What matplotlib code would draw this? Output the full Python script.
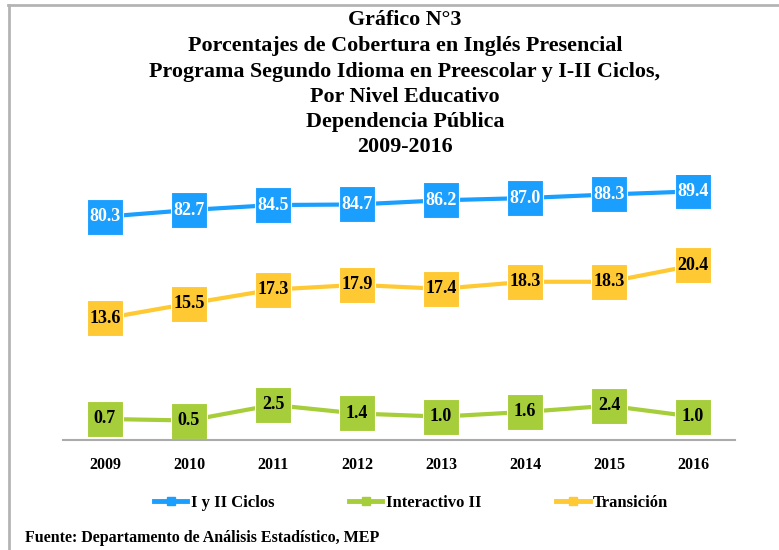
import matplotlib
matplotlib.use('Agg')
import matplotlib.pyplot as plt
from matplotlib.lines import Line2D

plt.rcParams['font.family'] = 'Liberation Serif'
plt.rcParams['font.weight'] = 'bold'

# ---- data ----
years = ['2009', '2010', '2011', '2012', '2013', '2014', '2015', '2016']
ciclos = [80.3, 82.7, 84.5, 84.7, 86.2, 87.0, 88.3, 89.4]
interactivo = [0.7, 0.5, 2.5, 1.4, 1.0, 1.6, 2.4, 1.0]
transicion = [13.6, 15.5, 17.3, 17.9, 17.4, 18.3, 18.3, 20.4]
series_names = ['I y II Ciclos', 'Interactivo II', 'Transición']

c_blue = '#1a9fff'
c_green = '#a6cd3a'
c_yellow = '#ffc933'

title_lines = ['Gráfico N°3',
               'Porcentajes de Cobertura en Inglés Presencial',
               'Programa Segundo Idioma en Preescolar y I-II Ciclos,',
               'Por Nivel Educativo',
               'Dependencia Pública',
               '2009-2016']

fig = plt.figure(figsize=(7.79, 5.5), dpi=100)

# frame of the picture (top and left edges only visible)
fig.add_artist(Line2D([8/779, 1], [1-5/550, 1-5/550], color='#b4b4b4', lw=2))
fig.add_artist(Line2D([8.5/779, 8.5/779], [0, 1-5/550], color='#b4b4b4', lw=2))

ax = fig.add_axes([63/779, 110/550, 672/779, 265/550])
ax2 = ax.twinx()

x = list(range(len(years)))

def draw(a, vals, col, txtcol):
    a.plot(x, vals, color=col, lw=3, zorder=2, marker='s', ms=26,
           mec='white', mew=0.8)
    for xi, v in zip(x, vals):
        a.text(xi, v, '%.1f' % v, ha='center', va='center', fontsize=13,
               fontweight='bold', color=txtcol, zorder=4)

draw(ax, interactivo, c_green, 'black')
draw(ax, transicion, c_yellow, 'black')
draw(ax2, ciclos, c_blue, 'white')

ax.set_xlim(-0.5, len(years) - 0.5)
ax.set_ylim(-2, 32)
ax2.set_ylim(0, 95.3)

for a in (ax, ax2):
    for s in ['top', 'right', 'left']:
        a.spines[s].set_visible(False)
    a.set_yticks([])
    a.patch.set_visible(False)
ax2.spines['bottom'].set_visible(False)
ax.spines['bottom'].set_color('#ababab')
ax.spines['bottom'].set_linewidth(1.5)

ax.set_xticks(x)
ax.set_xticklabels(years, fontsize=11.5, fontweight='bold')
ax.tick_params(axis='x', length=0, pad=12)

title_y = [20, 46, 72, 97, 122, 147]
for t, yy in zip(title_lines, title_y):
    fig.text(405/779, 1 - yy/550, t, ha='center', va='center', fontsize=15.8,
             fontweight='bold')

handles = [Line2D([], [], color=c_blue, lw=3.5, marker='s', ms=6),
           Line2D([], [], color=c_green, lw=3.5, marker='s', ms=6),
           Line2D([], [], color=c_yellow, lw=3.5, marker='s', ms=6)]
fig.legend(handles, series_names,
           loc='center', bbox_to_anchor=(411/779, 1 - 503/550), ncol=3,
           frameon=False, handlelength=2.0, handletextpad=0.2,
           columnspacing=4.5, prop={'weight': 'bold', 'size': 12})

fig.text(25/779, 1 - 538/550, 'Fuente: Departamento de Análisis Estadístico, MEP',
         ha='left', va='center', fontsize=11.5, fontweight='bold')

fig.savefig('out.png', dpi=100)
